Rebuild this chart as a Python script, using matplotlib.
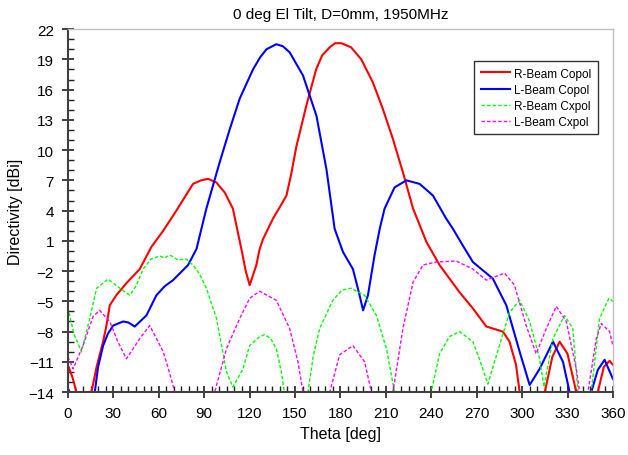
import matplotlib
matplotlib.use('Agg')
import matplotlib.pyplot as plt
from matplotlib.ticker import MultipleLocator, FixedLocator

plt.rcParams['font.family'] = ['Liberation Sans', 'DejaVu Sans']

# R-Beam Copol
theta_r = [0, 3, 5.7, 10.5, 15.6, 19, 23.3, 25.5, 27.7, 32, 38.7, 47.5, 55.2, 63, 71.7, 82.7, 88, 92.6,
           98, 103.6, 109, 114.6, 117.5, 120.1, 124.5, 126.7, 129, 135.5, 141, 144.4, 147.5, 151, 157.5, 164, 168, 173,
           176.5, 180.6, 187, 193.8, 201.5, 208, 214.7, 221.3, 228, 236.8, 245.5, 258.7, 267.5, 276.4, 287.3,
           291.7, 296, 298.4, 306, 315, 320, 324.8, 330, 335.8, 343, 350, 354, 357.8, 360]
r_copol = [-11.3, -12.5, -14, -17, -14, -11.5, -9.0, -7.4, -5.4, -4.4, -3.2, -1.8, 0.4, 2.0, 4.0, 6.65, 7.0, 7.15,
           6.8, 5.8, 4.2, 0.2, -2.0, -3.4, -1.4, 0.2, 1.2, 3.2, 4.6, 5.5, 7.6, 10.4, 14.4, 18.0, 19.4, 20.2,
           20.6, 20.6, 20.2, 19.0, 16.7, 14.1, 11.1, 7.8, 4.2, 0.9, -1.4, -4.1, -5.7, -7.5, -8.0,
           -9.0, -11.3, -14, -18, -14, -10.5, -9.0, -10.2, -14, -18, -14, -11.5, -10.9, -11.3]

# L-Beam Copol
theta_l = [0, 1.2, 9, 17.8, 20, 23.3, 26.5, 30, 36.5, 40, 44.2, 51.9, 58.5, 64, 69.5, 79.4, 85, 87.1, 91.5,
           100.3, 107, 113.5, 122.3, 127, 131.2, 137.7, 142, 146.5, 155.3, 164.2, 170.8, 176.2, 181.7, 188.3, 192.7,
           195, 198.2, 202.6, 206, 209.2, 215.8, 223.6, 232.3, 241.1, 249.9, 254.3, 261, 267.5, 280.7,
           289.6, 298.4, 305, 311.6, 320.4, 327, 331.4, 338, 345.7, 350, 354.5, 360]
l_copol = [-13.6, -14, -18, -14, -11.5, -9.4, -8.2, -7.4, -7.0, -7.1, -7.5, -6.4, -4.4, -3.5, -2.9, -1.4, 0.2, 1.5, 4.2,
           8.8, 12.1, 15.1, 18.0, 19.2, 20.0, 20.5, 20.3, 19.7, 17.4, 13.4, 8.1, 2.2, -0.1, -1.8, -4.4,
           -5.9, -4.4, -0.4, 2.2, 4.2, 6.3, 7.0, 6.65, 5.5, 3.2, 2.2, 0.5, -1.1, -2.75,
           -5.4, -10.0, -13.3, -11.7, -9.0, -11.0, -14, -18, -14, -11.8, -10.8, -12.7]

# R-Beam Cxpol
theta_rx = [0, 4, 9, 14, 19, 26.6, 34.3, 40.9, 45, 49.7, 55, 60.7, 64, 67.3, 72.8, 78, 82.7, 87, 91.5, 98.2,
            104.8, 109, 115.7, 120, 126.7, 130, 134, 137.7, 141, 143, 150, 158.6, 162, 166.3, 175, 181, 187,
            196, 203.8, 210.4, 215.8, 228, 240, 245.5, 252, 258.7, 267.5, 272, 277.4, 285, 291.7, 298.4,
            305, 311.6, 314.5, 320.4, 328, 333.5, 336.9, 341, 345.6, 351.2, 357.3, 360]
r_cxpol = [-5.6, -8.2, -10.0, -7.0, -3.7, -2.8, -3.7, -4.4, -3.5, -1.8, -0.8, -0.5, -0.7, -0.4, -0.9, -0.8, -1.4, -2.3, -3.7, -6.7,
           -12.0, -13.5, -11.7, -9.4, -8.5, -8.3, -8.7, -9.7, -12, -14, -20, -14, -10.5, -7.7, -4.9, -3.9, -3.7,
           -4.4, -6.4, -9.7, -14, -20, -14, -10.2, -8.5, -8.0, -9.0, -10.8, -13.2, -9.4, -6.1, -4.9,
           -7.0, -10.7, -13.5, -8.7, -6.4, -7.7, -14, -18, -14, -6.7, -4.7, -5.0]

# L-Beam Cxpol
theta_lx = [0, 3.5, 10, 16.7, 21, 27.7, 33, 38.7, 47.5, 54.1, 63, 67, 70.6, 84, 97, 104.8, 113.5, 120.1, 126.7,
            137.7, 146.5, 152, 155.3, 164, 173, 179.5, 188.3, 196, 200.5, 208, 214.7, 221.3, 228, 234.5, 243.3,
            256.5, 267.5, 276.4, 288.4, 295, 302.7, 309.3, 316, 322.6, 329.2, 335.8, 338, 341, 343.5, 349,
            352.3, 357.8, 360]
l_cxpol = [-10.5, -11.7, -9.4, -6.5, -5.9, -7.0, -9.0, -10.7, -8.7, -7.4, -10.0, -12, -14, -22, -14, -9.7, -6.7, -4.7, -4.0,
           -4.9, -7.7, -11.0, -14, -20, -14, -10.3, -9.4, -11.0, -14, -18, -14, -7.7, -3.1, -1.4, -1.1,
           -1.0, -1.8, -2.9, -2.2, -3.4, -7.4, -10.2, -7.7, -5.5, -7.0, -11.7, -14, -16, -14, -8.7,
           -7.2, -8.0, -9.4]

y_ticks = list(range(-14, 23, 3))

fig = plt.figure(figsize=(6.28, 4.56), dpi=100)
ax = fig.add_axes([0.108, 0.138, 0.868, 0.796])

ax.plot(theta_r, r_copol, color='#ff0000', lw=1.5, label='R-Beam Copol')
ax.plot(theta_l, l_copol, color='#0000ff', lw=1.5, label='L-Beam Copol')
ax.plot(theta_rx, r_cxpol, color='#00ff00', lw=1.0, ls=(0, (2.5, 1.5)), label='R-Beam Cxpol')
ax.plot(theta_lx, l_cxpol, color='#ff00ff', lw=1.0, ls=(0, (2.5, 1.5)), label='L-Beam Cxpol')

ax.set_xlim(0, 360)
ax.set_ylim(-14, 22)
ax.xaxis.set_major_locator(MultipleLocator(30))
ax.xaxis.set_minor_locator(MultipleLocator(5))
ax.yaxis.set_major_locator(FixedLocator(y_ticks))
ax.yaxis.set_minor_locator(MultipleLocator(1))
ax.tick_params(which='major', direction='inout', length=8, width=1.2, color='#202020', labelsize=11, pad=6)
ax.tick_params(which='minor', direction='in', length=4, width=1.0, color='#202020')

for s in ['left', 'bottom']:
    ax.spines[s].set_color('#404040')
    ax.spines[s].set_linewidth(1.5)
for s in ['top', 'right']:
    ax.spines[s].set_color('#c0c0c0')
    ax.spines[s].set_linewidth(1.0)

ax.set_title('0 deg El Tilt, D=0mm, 1950MHz', fontsize=11, pad=8)
ax.set_xlabel('Theta [deg]', fontsize=11.5, labelpad=4)
ax.set_ylabel('Directivity [dBi]', fontsize=11.5, labelpad=4)

leg = ax.legend(loc='upper right', bbox_to_anchor=(0.972, 0.912), borderaxespad=0, fontsize=8.5,
                frameon=True, fancybox=False, handlelength=2.5, handletextpad=0.3, labelspacing=0.35,
                borderpad=0.55)
leg.get_frame().set_edgecolor('black')
leg.get_frame().set_linewidth(1.0)

fig.savefig('out.png', dpi=100)
